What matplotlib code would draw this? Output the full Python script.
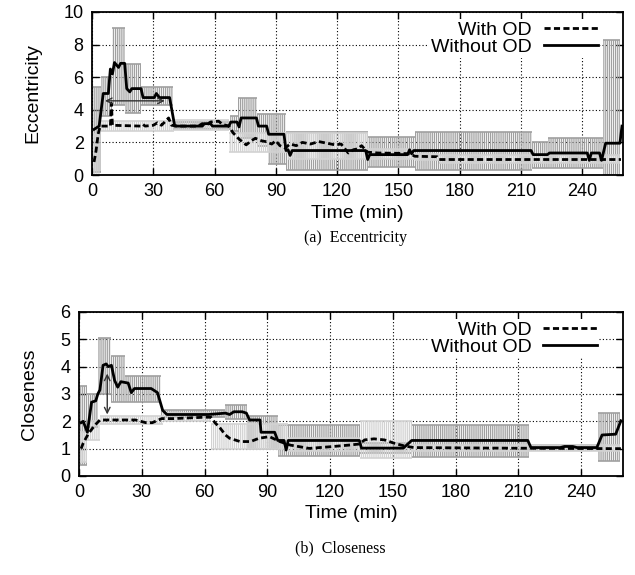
import matplotlib
matplotlib.use("Agg")
import matplotlib.pyplot as plt

plt.rcParams['font.family'] = ['Liberation Sans', 'DejaVu Sans']
plt.rcParams['hatch.linewidth'] = 0.9

# ---------------- Eccentricity (top) ----------------
ecc_without_t = [1, 3.5, 5.5, 8, 9, 10, 11, 13, 14, 16, 17, 18.5, 19.5, 24, 25, 30.5, 31.5, 33,
                 38, 40.5, 54, 55, 58, 59, 67, 68, 71, 72, 73, 80.5, 81.5, 85.5, 86.5, 94, 95, 96,
                 97, 98, 134, 135, 136, 154.5, 155.5, 156.5, 157.5, 215, 216, 223, 224, 242.5,
                 243.5, 244.5, 248.5, 249.5, 251.5, 258.5, 259.5]
ecc_without = [2.8, 3.0, 5.0, 5.0, 6.5, 6.2, 6.9, 6.6, 6.85, 6.85, 5.3, 5.1, 5.3, 5.3, 4.75, 4.75, 5.0, 4.75,
               4.75, 3.0, 3.0, 3.15, 3.15, 3.0, 3.0, 3.25, 3.25, 2.95, 3.5, 3.5, 3.0, 3.0, 2.5, 2.5, 1.5, 1.55,
               1.2, 1.5, 1.5, 0.95, 1.25, 1.25, 1.55, 1.3, 1.5, 1.5, 1.25, 1.25, 1.35, 1.35,
               0.9, 1.35, 1.35, 0.9, 1.95, 1.95, 3.0]

ecc_with_t = [1, 2, 3, 4, 9, 9.5, 10, 24, 25, 26, 30, 32, 34, 36, 37.5, 39, 42, 52, 54, 56, 58, 62, 64,
              67, 69, 72, 75.5, 78, 80, 83, 85, 88, 90, 92, 94.5, 97, 100, 103, 107, 111, 115, 119,
              122, 125.5, 128, 130, 132, 135, 140, 150, 156, 158, 169, 170, 259]
ecc_with = [0.8, 1.5, 2.5, 3.0, 3.0, 4.4, 3.05, 3.0, 3.1, 3.0, 3.05, 3.2, 3.05, 3.3, 3.5, 3.05, 3.0, 3.0,
            3.15, 3.05, 3.25, 3.3, 3.1, 3.0, 2.6, 2.2, 1.85, 2.1, 2.25, 2.1, 2.05, 1.9, 2.1, 1.8, 1.65,
            1.9, 1.8, 2.0, 1.9, 2.05, 1.95, 1.85, 1.9, 1.35, 1.55, 1.6, 1.8, 1.4, 1.35, 1.33, 1.3,
            1.15, 1.12, 0.95, 0.95]

# error ranges (step changes)
ecc_without_err_t = [0.5, 4.5, 10, 16, 24, 39.5, 67.5, 71.5, 81, 86, 95, 135, 158, 215.5, 223.5, 250, 258.5]
ecc_without_hi = [5.4, 6.0, 9.0, 6.8, 5.4, 3.25, 3.6, 4.75, 3.75, 3.75, 2.65, 2.35, 2.65, 2.0, 2.3, 8.3, 8.3]
ecc_without_lo = [0.2, 3.6, 4.3, 3.8, 4.3, 2.8, 2.7, 2.3, 1.8, 0.7, 0.3, 0.5, 0.3, 0.45, 0.45, 0.0, 0.0]

ecc_with_err_t = [0.5, 4, 40, 67, 96, 135, 158, 170, 258.5]
ecc_with_hi = [2.5, 3.3, 3.4, 2.6, 2.6, 1.6, 1.3, 1.2, 1.2]
ecc_with_lo = [0.0, 2.7, 2.75, 1.4, 1.0, 1.0, 0.9, 0.75, 0.75]

# ---------------- Closeness (bottom) ----------------
clo_without_t = [1, 2, 4, 6, 8, 9, 10, 11.5, 13, 14, 15.5, 17, 18.5, 20, 23.5, 25, 26.5, 34.5, 37.5,
                 40, 42, 62, 70, 72, 74, 78, 80, 81.5, 86.5, 87, 93.5, 95, 98, 99, 100, 134, 135,
                 155, 159, 214.5, 216, 230, 232, 236, 238, 247.5, 250, 256.5, 259]
clo_without = [1.95, 2.0, 1.6, 2.7, 2.75, 3.0, 3.15, 4.05, 4.1, 4.0, 4.05, 3.5, 3.25, 3.45, 3.4, 3.05, 3.2,
               3.2, 3.05, 2.4, 2.25, 2.25, 2.3, 2.25, 2.35, 2.35, 2.3, 2.05, 2.05, 1.6, 1.6, 1.3, 1.3,
               0.95, 1.3, 1.3, 1.02, 1.02, 1.3, 1.3, 1.04, 1.04, 1.08, 1.08, 1.04, 1.04, 1.5, 1.53, 2.02]

clo_with_t = [1, 2, 4.5, 7.5, 10, 27, 32, 35, 39.5, 45, 60, 63, 65, 67.5, 70, 72, 77, 82, 86, 91, 96,
              101, 110, 120, 129, 134, 136.5, 141, 146, 151, 155.5, 160, 200, 259]
clo_with = [1.0, 1.2, 1.55, 1.85, 2.05, 2.05, 1.95, 1.95, 2.1, 2.1, 2.15, 2.15, 1.95, 1.75, 1.5, 1.38,
            1.26, 1.26, 1.38, 1.44, 1.26, 1.13, 1.01, 1.07, 1.13, 1.17, 1.32, 1.36, 1.32, 1.19, 1.1,
            1.04, 1.02, 1.0]

clo_without_err_t = [0.5, 4, 9, 15.5, 22, 39, 70, 80.5, 95, 134.5, 159, 215, 248, 258.5]
clo_without_hi = [3.3, 3.0, 5.05, 4.4, 3.65, 2.4, 2.6, 2.2, 1.85, 1.2, 1.87, 1.12, 2.3, 2.3]
clo_without_lo = [0.4, 1.8, 3.0, 2.7, 2.7, 2.15, 2.1, 1.0, 0.75, 0.85, 0.7, 0.95, 0.55, 0.55]

clo_with_err_t = [0.5, 4, 10, 40, 63, 100, 134.5, 159, 258.5]
clo_with_hi = [1.6, 2.0, 2.2, 2.3, 1.9, 1.4, 2.0, 1.15, 1.15]
clo_with_lo = [0.5, 1.3, 1.9, 2.0, 1.0, 0.9, 0.65, 0.9, 0.9]

x_ticks = [0, 30, 60, 90, 120, 150, 180, 210, 240]

DARK_GRAY = '#a0a0a0'
LIGHT_GRAY = '#d2d2d2'
DASH = (0, (2.2, 1.2))


def draw_band(ax, t, lo, hi, color):
    # dense vertical error bars -> vertical hatch between the bounds, caps as short lines
    ax.fill_between(t, lo, hi, step='post', facecolor='none', edgecolor=color,
                    hatch='|' * 8, linewidth=0, zorder=1)
    ax.hlines(hi[:-1], t[:-1], t[1:], color=color, lw=1.2, zorder=1)
    ax.hlines(lo[:-1], t[:-1], t[1:], color=color, lw=1.2, zorder=1)


def draw_panel(ax, ymax, ylabel, without, with_, bands):
    (wt, wv), (dt, dv) = without, with_
    for t, lo, hi, color in bands:
        draw_band(ax, t, lo, hi, color)
    ax.plot(dt, dv, color='black', lw=2, linestyle=DASH, label='With OD', zorder=3)
    ax.plot(wt, wv, color='black', lw=2, label='Without OD', zorder=4)

    ax.set_xlim(0, 260)
    ax.set_ylim(0, ymax)
    ax.set_xticks(x_ticks)
    ax.set_yticks(range(0, ymax + 1, 2 if ymax == 10 else 1))
    ax.tick_params(direction='in', top=True, right=True, labelsize=13, length=5, width=1, pad=6)
    ax.grid(True, linestyle=(0, (1, 2)), color='black', lw=0.8)
    ax.set_axisbelow(True)
    for s in ax.spines.values():
        s.set_linewidth(1.3)
    ax.set_xlabel('Time (min)', fontsize=14, labelpad=3)
    ax.set_ylabel(ylabel, fontsize=14, labelpad=16)
    leg = ax.legend(loc='upper right', bbox_to_anchor=(1 - 23 / 531, 1 - 7 / 163),
                    markerfirst=False, fontsize=14, handlelength=2.8, handletextpad=0.6,
                    labelspacing=0, borderpad=0.1, borderaxespad=0,
                    frameon=True, facecolor='white', edgecolor='none', framealpha=1, fancybox=False)
    return leg


fig = plt.figure(figsize=(6.35, 5.75), dpi=100)
ax1 = fig.add_axes([92 / 635, 1 - 175 / 575, 531 / 635, 163 / 575])
ax2 = fig.add_axes([79 / 635, 1 - 476 / 575, 544 / 635, 164 / 575])

draw_panel(ax1, 10, 'Eccentricity',
           (ecc_without_t, ecc_without), (ecc_with_t, ecc_with),
           [(ecc_without_err_t, ecc_without_lo, ecc_without_hi, DARK_GRAY),
            (ecc_with_err_t, ecc_with_lo, ecc_with_hi, LIGHT_GRAY)])
ax1.annotate('', xy=(5, 4.55), xytext=(37, 4.55),
             arrowprops=dict(arrowstyle='<->', color='#333333', lw=1), zorder=5)

draw_panel(ax2, 6, 'Closeness',
           (clo_without_t, clo_without), (clo_with_t, clo_with),
           [(clo_without_err_t, clo_without_lo, clo_without_hi, DARK_GRAY),
            (clo_with_err_t, clo_with_lo, clo_with_hi, LIGHT_GRAY)])
ax2.annotate('', xy=(13.5, 2.15), xytext=(13.5, 3.85),
             arrowprops=dict(arrowstyle='<->', color='#333333', lw=1), zorder=5)

fig.text(355 / 635, 1 - 238 / 575, '(a)  Eccentricity', ha='center', va='center',
         family='Liberation Serif', fontsize=11.5)
fig.text(340 / 635, 1 - 548 / 575, '(b)  Closeness', ha='center', va='center',
         family='Liberation Serif', fontsize=11.5)

plt.savefig('out.png', dpi=100)
print("Saved out.png")
